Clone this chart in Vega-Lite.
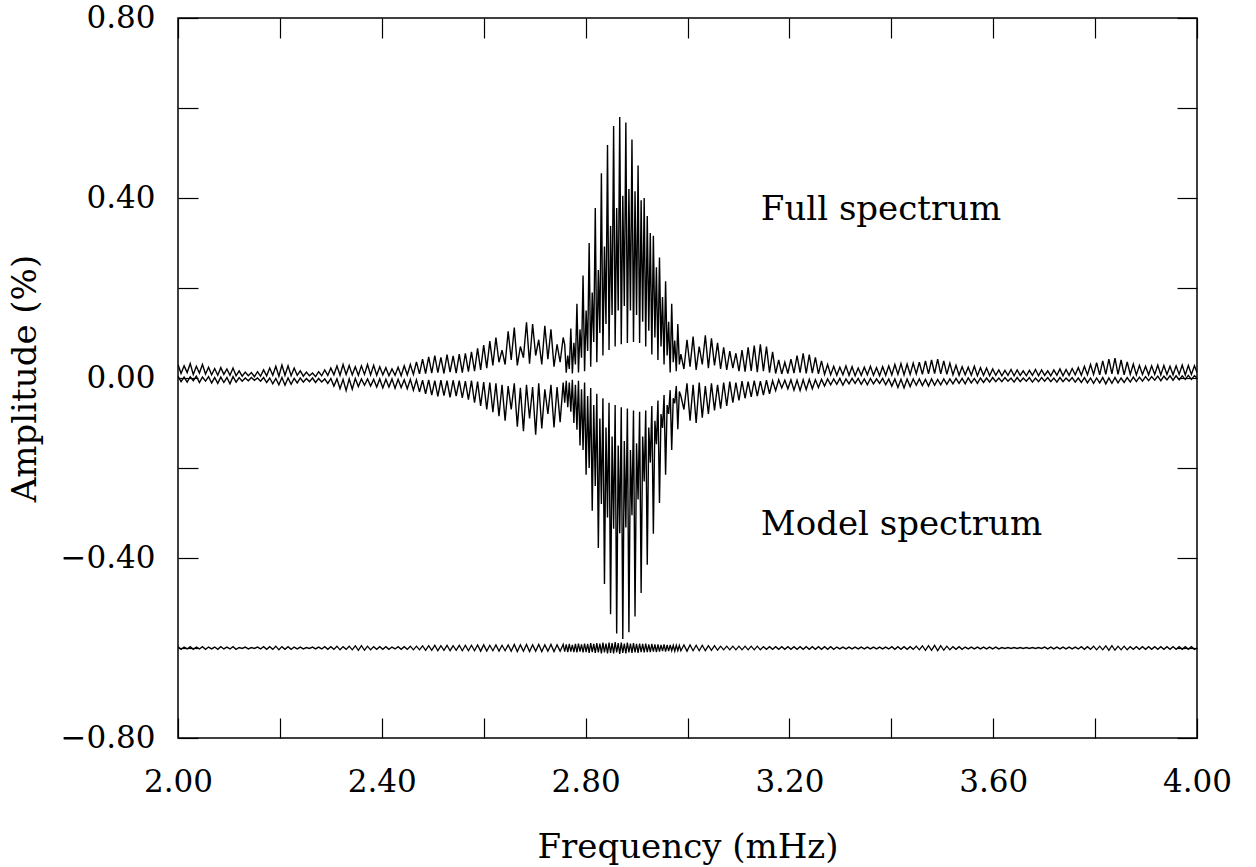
{
"$schema": "https://vega.github.io/schema/vega-lite/v6.json",
"width": 1019, "height": 720,
"autosize": {"type": "none"},
"padding": {"left": 178, "top": 18, "right": 59, "bottom": 129},
"background": "white",
"config": {
 "view": {"stroke": "#000", "strokeWidth": 1.5},
 "axis": {"grid": false, "domain": false, "tickColor": "#000", "tickSize": -20, "tickWidth": 1.2,
  "labelFont": "DejaVu Serif", "labelFontSize": 31, "labelColor": "#000",
  "titleFont": "DejaVu Serif", "titleFontSize": 34, "titleFontWeight": "normal", "titleColor": "#000"}
},
"data": {"values": [
{"f":2.000,"u":0.030,"l":0.004,"m":-0.597},{"f":2.006,"u":0.010,"l":-0.008,"m":-0.603},{"f":2.012,"u":0.027,"l":0.002,"m":-0.598},{"f":2.018,"u":0.012,"l":-0.009,"m":-0.602},
{"f":2.024,"u":0.032,"l":0.003,"m":-0.597},{"f":2.030,"u":0.008,"l":-0.006,"m":-0.603},{"f":2.036,"u":0.026,"l":0.004,"m":-0.598},{"f":2.042,"u":0.011,"l":-0.010,"m":-0.602},
{"f":2.048,"u":0.030,"l":0.002,"m":-0.597},{"f":2.054,"u":0.009,"l":-0.007,"m":-0.603},{"f":2.060,"u":0.024,"l":0.003,"m":-0.598},{"f":2.066,"u":0.007,"l":-0.011,"m":-0.602},
{"f":2.072,"u":0.021,"l":0.001,"m":-0.598},{"f":2.078,"u":0.006,"l":-0.012,"m":-0.603},{"f":2.084,"u":0.023,"l":0.002,"m":-0.597},{"f":2.090,"u":0.008,"l":-0.010,"m":-0.602},
{"f":2.096,"u":0.020,"l":0.001,"m":-0.598},{"f":2.102,"u":0.006,"l":-0.013,"m":-0.602},{"f":2.108,"u":0.022,"l":0.003,"m":-0.597},{"f":2.114,"u":0.005,"l":-0.009,"m":-0.603},
{"f":2.120,"u":0.016,"l":0.001,"m":-0.599},{"f":2.126,"u":0.004,"l":-0.007,"m":-0.601},{"f":2.132,"u":0.013,"l":0.000,"m":-0.598},{"f":2.138,"u":0.005,"l":-0.006,"m":-0.602},
{"f":2.144,"u":0.012,"l":0.001,"m":-0.599},{"f":2.150,"u":0.003,"l":-0.005,"m":-0.601},{"f":2.156,"u":0.014,"l":0.000,"m":-0.598},{"f":2.162,"u":0.004,"l":-0.007,"m":-0.602},
{"f":2.168,"u":0.018,"l":0.001,"m":-0.597},{"f":2.174,"u":0.005,"l":-0.010,"m":-0.603},{"f":2.180,"u":0.022,"l":0.000,"m":-0.597},{"f":2.186,"u":0.006,"l":-0.013,"m":-0.603},
{"f":2.192,"u":0.026,"l":-0.001,"m":-0.596},{"f":2.198,"u":0.004,"l":-0.015,"m":-0.604},{"f":2.204,"u":0.029,"l":0.001,"m":-0.597},{"f":2.210,"u":0.006,"l":-0.016,"m":-0.603},
{"f":2.216,"u":0.027,"l":0.000,"m":-0.597},{"f":2.222,"u":0.005,"l":-0.014,"m":-0.603},{"f":2.228,"u":0.022,"l":-0.001,"m":-0.598},{"f":2.234,"u":0.006,"l":-0.011,"m":-0.602},
{"f":2.240,"u":0.016,"l":0.000,"m":-0.598},{"f":2.246,"u":0.004,"l":-0.009,"m":-0.602},{"f":2.252,"u":0.013,"l":-0.001,"m":-0.599},{"f":2.258,"u":0.005,"l":-0.008,"m":-0.601},
{"f":2.264,"u":0.011,"l":0.000,"m":-0.598},{"f":2.270,"u":0.003,"l":-0.010,"m":-0.602},{"f":2.276,"u":0.014,"l":-0.001,"m":-0.598},{"f":2.282,"u":0.005,"l":-0.009,"m":-0.602},
{"f":2.288,"u":0.018,"l":-0.002,"m":-0.597},{"f":2.294,"u":0.006,"l":-0.012,"m":-0.603},{"f":2.300,"u":0.022,"l":-0.001,"m":-0.597},{"f":2.306,"u":0.007,"l":-0.018,"m":-0.603},
{"f":2.312,"u":0.027,"l":-0.002,"m":-0.596},{"f":2.318,"u":0.006,"l":-0.024,"m":-0.604},{"f":2.324,"u":0.030,"l":-0.003,"m":-0.597},{"f":2.330,"u":0.008,"l":-0.028,"m":-0.603},
{"f":2.336,"u":0.028,"l":-0.002,"m":-0.596},{"f":2.342,"u":0.007,"l":-0.025,"m":-0.604},{"f":2.348,"u":0.025,"l":-0.001,"m":-0.595},{"f":2.354,"u":0.006,"l":-0.019,"m":-0.605},
{"f":2.360,"u":0.027,"l":-0.002,"m":-0.595},{"f":2.366,"u":0.008,"l":-0.016,"m":-0.605},{"f":2.372,"u":0.030,"l":-0.002,"m":-0.596},{"f":2.378,"u":0.007,"l":-0.018,"m":-0.604},
{"f":2.384,"u":0.028,"l":-0.003,"m":-0.597},{"f":2.390,"u":0.006,"l":-0.020,"m":-0.603},{"f":2.396,"u":0.025,"l":-0.002,"m":-0.597},{"f":2.402,"u":0.007,"l":-0.022,"m":-0.603},
{"f":2.408,"u":0.023,"l":-0.003,"m":-0.597},{"f":2.414,"u":0.005,"l":-0.020,"m":-0.603},{"f":2.420,"u":0.020,"l":-0.002,"m":-0.598},{"f":2.426,"u":0.006,"l":-0.023,"m":-0.602},
{"f":2.432,"u":0.024,"l":-0.003,"m":-0.597},{"f":2.438,"u":0.005,"l":-0.021,"m":-0.603},{"f":2.444,"u":0.027,"l":-0.004,"m":-0.597},{"f":2.450,"u":0.007,"l":-0.024,"m":-0.603},
{"f":2.456,"u":0.030,"l":-0.003,"m":-0.596},{"f":2.462,"u":0.008,"l":-0.027,"m":-0.604},{"f":2.468,"u":0.036,"l":-0.004,"m":-0.596},{"f":2.474,"u":0.009,"l":-0.031,"m":-0.604},
{"f":2.480,"u":0.042,"l":-0.005,"m":-0.595},{"f":2.486,"u":0.010,"l":-0.035,"m":-0.605},{"f":2.492,"u":0.047,"l":-0.004,"m":-0.595},{"f":2.498,"u":0.011,"l":-0.038,"m":-0.605},
{"f":2.504,"u":0.050,"l":-0.006,"m":-0.594},{"f":2.510,"u":0.012,"l":-0.041,"m":-0.606},{"f":2.516,"u":0.046,"l":-0.005,"m":-0.595},{"f":2.522,"u":0.010,"l":-0.039,"m":-0.605},
{"f":2.528,"u":0.052,"l":-0.006,"m":-0.594},{"f":2.534,"u":0.013,"l":-0.043,"m":-0.606},{"f":2.540,"u":0.049,"l":-0.005,"m":-0.595},{"f":2.546,"u":0.011,"l":-0.040,"m":-0.605},
{"f":2.552,"u":0.053,"l":-0.006,"m":-0.594},{"f":2.558,"u":0.012,"l":-0.044,"m":-0.606},{"f":2.564,"u":0.055,"l":-0.007,"m":-0.594},{"f":2.570,"u":0.014,"l":-0.048,"m":-0.606},
{"f":2.576,"u":0.058,"l":-0.006,"m":-0.594},{"f":2.582,"u":0.015,"l":-0.055,"m":-0.606},{"f":2.588,"u":0.066,"l":-0.008,"m":-0.593},{"f":2.594,"u":0.018,"l":-0.062,"m":-0.607},
{"f":2.600,"u":0.073,"l":-0.009,"m":-0.593},{"f":2.606,"u":0.022,"l":-0.070,"m":-0.607},{"f":2.612,"u":0.082,"l":-0.010,"m":-0.594},{"f":2.618,"u":0.028,"l":-0.076,"m":-0.606},
{"f":2.624,"u":0.090,"l":-0.012,"m":-0.593},{"f":2.630,"u":0.035,"l":-0.085,"m":-0.607},{"f":2.636,"u":0.062,"l":-0.015,"m":-0.594},{"f":2.642,"u":0.030,"l":-0.095,"m":-0.606},
{"f":2.648,"u":0.104,"l":-0.018,"m":-0.593},{"f":2.654,"u":0.040,"l":-0.070,"m":-0.607},{"f":2.660,"u":0.112,"l":-0.012,"m":-0.592},{"f":2.666,"u":0.028,"l":-0.108,"m":-0.608},
{"f":2.672,"u":0.070,"l":-0.022,"m":-0.593},{"f":2.678,"u":0.045,"l":-0.118,"m":-0.607},{"f":2.684,"u":0.124,"l":-0.015,"m":-0.592},{"f":2.690,"u":0.032,"l":-0.090,"m":-0.608},
{"f":2.696,"u":0.120,"l":-0.020,"m":-0.593},{"f":2.702,"u":0.050,"l":-0.126,"m":-0.607},{"f":2.708,"u":0.085,"l":-0.012,"m":-0.592},{"f":2.714,"u":0.030,"l":-0.112,"m":-0.608},
{"f":2.720,"u":0.116,"l":-0.025,"m":-0.593},{"f":2.726,"u":0.042,"l":-0.080,"m":-0.607},{"f":2.732,"u":0.108,"l":-0.015,"m":-0.592},{"f":2.738,"u":0.025,"l":-0.110,"m":-0.608},
{"f":2.744,"u":0.075,"l":-0.020,"m":-0.593},{"f":2.750,"u":0.035,"l":-0.098,"m":-0.607},{"f":2.756,"u":0.090,"l":-0.010,"m":-0.592},
{"f":2.759,"u":0.074,"l":-0.055,"m":-0.608},{"f":2.762,"u":0.012,"l":-0.006,"m":-0.592},{"f":2.765,"u":0.050,"l":-0.065,"m":-0.609},{"f":2.768,"u":0.020,"l":-0.010,"m":-0.591},
{"f":2.771,"u":0.110,"l":-0.075,"m":-0.608},{"f":2.774,"u":0.010,"l":-0.004,"m":-0.593},{"f":2.777,"u":0.078,"l":-0.100,"m":-0.609},{"f":2.780,"u":0.030,"l":-0.015,"m":-0.591},
{"f":2.783,"u":0.165,"l":-0.115,"m":-0.610},{"f":2.786,"u":0.012,"l":-0.006,"m":-0.590},{"f":2.789,"u":0.108,"l":-0.150,"m":-0.608},{"f":2.792,"u":0.045,"l":-0.025,"m":-0.592},
{"f":2.795,"u":0.228,"l":-0.160,"m":-0.610},{"f":2.798,"u":0.015,"l":-0.010,"m":-0.590},{"f":2.801,"u":0.150,"l":-0.215,"m":-0.609},{"f":2.804,"u":0.060,"l":-0.040,"m":-0.591},
{"f":2.807,"u":0.300,"l":-0.200,"m":-0.611},{"f":2.810,"u":0.025,"l":-0.022,"m":-0.589},{"f":2.813,"u":0.190,"l":-0.295,"m":-0.609},{"f":2.816,"u":0.080,"l":-0.060,"m":-0.591},
{"f":2.819,"u":0.378,"l":-0.240,"m":-0.611},{"f":2.822,"u":0.035,"l":-0.035,"m":-0.589},{"f":2.825,"u":0.240,"l":-0.378,"m":-0.610},{"f":2.828,"u":0.100,"l":-0.090,"m":-0.590},
{"f":2.831,"u":0.455,"l":-0.280,"m":-0.612},{"f":2.834,"u":0.050,"l":-0.045,"m":-0.588},{"f":2.837,"u":0.292,"l":-0.458,"m":-0.610},{"f":2.840,"u":0.120,"l":-0.110,"m":-0.590},
{"f":2.843,"u":0.518,"l":-0.310,"m":-0.612},{"f":2.846,"u":0.062,"l":-0.055,"m":-0.588},{"f":2.849,"u":0.338,"l":-0.525,"m":-0.611},{"f":2.852,"u":0.140,"l":-0.130,"m":-0.589},
{"f":2.855,"u":0.560,"l":-0.335,"m":-0.612},{"f":2.858,"u":0.070,"l":-0.060,"m":-0.587},{"f":2.861,"u":0.378,"l":-0.568,"m":-0.610},{"f":2.864,"u":0.150,"l":-0.150,"m":-0.589},
{"f":2.867,"u":0.580,"l":-0.345,"m":-0.613},{"f":2.870,"u":0.075,"l":-0.065,"m":-0.588},{"f":2.873,"u":0.405,"l":-0.580,"m":-0.611},{"f":2.876,"u":0.160,"l":-0.140,"m":-0.590},
{"f":2.879,"u":0.568,"l":-0.332,"m":-0.612},{"f":2.882,"u":0.078,"l":-0.068,"m":-0.588},{"f":2.885,"u":0.420,"l":-0.565,"m":-0.610},{"f":2.888,"u":0.150,"l":-0.160,"m":-0.590},
{"f":2.891,"u":0.530,"l":-0.305,"m":-0.611},{"f":2.894,"u":0.080,"l":-0.072,"m":-0.589},{"f":2.897,"u":0.415,"l":-0.530,"m":-0.610},{"f":2.900,"u":0.140,"l":-0.145,"m":-0.591},
{"f":2.903,"u":0.472,"l":-0.270,"m":-0.611},{"f":2.906,"u":0.078,"l":-0.075,"m":-0.590},{"f":2.909,"u":0.395,"l":-0.478,"m":-0.609},{"f":2.912,"u":0.125,"l":-0.130,"m":-0.591},
{"f":2.915,"u":0.400,"l":-0.230,"m":-0.610},{"f":2.918,"u":0.070,"l":-0.072,"m":-0.590},{"f":2.921,"u":0.360,"l":-0.415,"m":-0.609},{"f":2.924,"u":0.105,"l":-0.110,"m":-0.592},
{"f":2.927,"u":0.322,"l":-0.188,"m":-0.609},{"f":2.930,"u":0.052,"l":-0.062,"m":-0.591},{"f":2.933,"u":0.316,"l":-0.346,"m":-0.608},{"f":2.936,"u":0.090,"l":-0.095,"m":-0.592},
{"f":2.939,"u":0.246,"l":-0.147,"m":-0.609},{"f":2.942,"u":0.040,"l":-0.050,"m":-0.592},{"f":2.945,"u":0.268,"l":-0.278,"m":-0.608},{"f":2.948,"u":0.070,"l":-0.080,"m":-0.593},
{"f":2.951,"u":0.180,"l":-0.111,"m":-0.607},{"f":2.954,"u":0.030,"l":-0.038,"m":-0.592},{"f":2.957,"u":0.215,"l":-0.215,"m":-0.608},{"f":2.960,"u":0.050,"l":-0.060,"m":-0.593},
{"f":2.963,"u":0.125,"l":-0.080,"m":-0.607},{"f":2.966,"u":0.012,"l":-0.027,"m":-0.593},{"f":2.969,"u":0.165,"l":-0.160,"m":-0.606},{"f":2.972,"u":0.035,"l":-0.045,"m":-0.594},
{"f":2.975,"u":0.083,"l":-0.056,"m":-0.607},{"f":2.978,"u":0.015,"l":-0.018,"m":-0.594},{"f":2.981,"u":0.120,"l":-0.114,"m":-0.606},{"f":2.984,"u":0.030,"l":-0.030,"m":-0.594},
{"f":2.987,"u":0.053,"l":-0.040,"m":-0.606},
{"f":2.993,"u":0.020,"l":-0.070,"m":-0.593},{"f":2.999,"u":0.085,"l":-0.012,"m":-0.607},{"f":3.005,"u":0.025,"l":-0.095,"m":-0.593},{"f":3.011,"u":0.092,"l":-0.015,"m":-0.606},
{"f":3.017,"u":0.018,"l":-0.100,"m":-0.594},{"f":3.023,"u":0.070,"l":-0.010,"m":-0.606},{"f":3.029,"u":0.030,"l":-0.088,"m":-0.594},{"f":3.035,"u":0.095,"l":-0.018,"m":-0.606},
{"f":3.041,"u":0.022,"l":-0.080,"m":-0.595},{"f":3.047,"u":0.088,"l":-0.012,"m":-0.605},{"f":3.053,"u":0.028,"l":-0.072,"m":-0.595},{"f":3.059,"u":0.078,"l":-0.015,"m":-0.605},
{"f":3.065,"u":0.020,"l":-0.068,"m":-0.596},{"f":3.071,"u":0.068,"l":-0.010,"m":-0.604},{"f":3.077,"u":0.018,"l":-0.062,"m":-0.596},{"f":3.083,"u":0.060,"l":-0.008,"m":-0.604},
{"f":3.089,"u":0.022,"l":-0.055,"m":-0.596},{"f":3.095,"u":0.055,"l":-0.010,"m":-0.604},{"f":3.101,"u":0.015,"l":-0.050,"m":-0.596},{"f":3.107,"u":0.062,"l":-0.007,"m":-0.604},
{"f":3.113,"u":0.014,"l":-0.045,"m":-0.596},{"f":3.119,"u":0.068,"l":-0.008,"m":-0.604},{"f":3.125,"u":0.016,"l":-0.042,"m":-0.596},{"f":3.131,"u":0.072,"l":-0.006,"m":-0.604},
{"f":3.137,"u":0.013,"l":-0.040,"m":-0.596},{"f":3.143,"u":0.075,"l":-0.007,"m":-0.604},{"f":3.149,"u":0.015,"l":-0.038,"m":-0.597},{"f":3.155,"u":0.070,"l":-0.005,"m":-0.603},
{"f":3.161,"u":0.012,"l":-0.035,"m":-0.597},{"f":3.167,"u":0.058,"l":-0.006,"m":-0.603},{"f":3.173,"u":0.010,"l":-0.028,"m":-0.597},{"f":3.179,"u":0.040,"l":-0.004,"m":-0.603},
{"f":3.185,"u":0.009,"l":-0.022,"m":-0.597},{"f":3.191,"u":0.035,"l":-0.005,"m":-0.603},{"f":3.197,"u":0.010,"l":-0.024,"m":-0.597},{"f":3.203,"u":0.042,"l":-0.004,"m":-0.603},
{"f":3.209,"u":0.011,"l":-0.027,"m":-0.597},{"f":3.215,"u":0.050,"l":-0.005,"m":-0.603},{"f":3.221,"u":0.012,"l":-0.028,"m":-0.597},{"f":3.227,"u":0.055,"l":-0.004,"m":-0.603},
{"f":3.233,"u":0.010,"l":-0.026,"m":-0.597},{"f":3.239,"u":0.052,"l":-0.003,"m":-0.603},{"f":3.245,"u":0.011,"l":-0.024,"m":-0.597},{"f":3.251,"u":0.046,"l":-0.004,"m":-0.603},
{"f":3.257,"u":0.009,"l":-0.021,"m":-0.597},{"f":3.263,"u":0.038,"l":-0.003,"m":-0.603},{"f":3.269,"u":0.008,"l":-0.018,"m":-0.597},{"f":3.275,"u":0.030,"l":-0.002,"m":-0.603},
{"f":3.281,"u":0.007,"l":-0.015,"m":-0.597},{"f":3.287,"u":0.026,"l":-0.002,"m":-0.603},{"f":3.293,"u":0.006,"l":-0.014,"m":-0.598},{"f":3.299,"u":0.024,"l":-0.001,"m":-0.602},
{"f":3.305,"u":0.007,"l":-0.016,"m":-0.598},{"f":3.311,"u":0.027,"l":-0.002,"m":-0.602},{"f":3.317,"u":0.006,"l":-0.013,"m":-0.598},{"f":3.323,"u":0.025,"l":-0.001,"m":-0.602},
{"f":3.329,"u":0.005,"l":-0.012,"m":-0.598},{"f":3.335,"u":0.022,"l":-0.001,"m":-0.602},{"f":3.341,"u":0.006,"l":-0.014,"m":-0.598},{"f":3.347,"u":0.024,"l":-0.002,"m":-0.602},
{"f":3.353,"u":0.007,"l":-0.015,"m":-0.598},{"f":3.359,"u":0.026,"l":-0.001,"m":-0.602},{"f":3.365,"u":0.006,"l":-0.013,"m":-0.598},{"f":3.371,"u":0.023,"l":-0.002,"m":-0.602},
{"f":3.377,"u":0.005,"l":-0.012,"m":-0.598},{"f":3.383,"u":0.025,"l":-0.001,"m":-0.602},{"f":3.389,"u":0.006,"l":-0.015,"m":-0.598},{"f":3.395,"u":0.027,"l":-0.002,"m":-0.602},
{"f":3.401,"u":0.007,"l":-0.018,"m":-0.597},{"f":3.407,"u":0.030,"l":-0.002,"m":-0.603},{"f":3.413,"u":0.008,"l":-0.021,"m":-0.597},{"f":3.419,"u":0.032,"l":-0.003,"m":-0.603},
{"f":3.425,"u":0.007,"l":-0.022,"m":-0.597},{"f":3.431,"u":0.031,"l":-0.002,"m":-0.603},{"f":3.437,"u":0.008,"l":-0.019,"m":-0.597},{"f":3.443,"u":0.033,"l":-0.002,"m":-0.603},
{"f":3.449,"u":0.009,"l":-0.016,"m":-0.596},{"f":3.455,"u":0.035,"l":-0.002,"m":-0.604},{"f":3.461,"u":0.008,"l":-0.017,"m":-0.595},{"f":3.467,"u":0.038,"l":-0.003,"m":-0.605},
{"f":3.473,"u":0.009,"l":-0.018,"m":-0.595},{"f":3.479,"u":0.040,"l":-0.002,"m":-0.605},{"f":3.485,"u":0.010,"l":-0.016,"m":-0.594},{"f":3.491,"u":0.042,"l":-0.003,"m":-0.606},
{"f":3.497,"u":0.009,"l":-0.015,"m":-0.595},{"f":3.503,"u":0.038,"l":-0.002,"m":-0.605},{"f":3.509,"u":0.008,"l":-0.014,"m":-0.596},{"f":3.515,"u":0.033,"l":-0.002,"m":-0.604},
{"f":3.521,"u":0.007,"l":-0.013,"m":-0.597},{"f":3.527,"u":0.028,"l":-0.001,"m":-0.603},{"f":3.533,"u":0.006,"l":-0.012,"m":-0.597},{"f":3.539,"u":0.025,"l":-0.001,"m":-0.603},
{"f":3.545,"u":0.007,"l":-0.013,"m":-0.598},{"f":3.551,"u":0.024,"l":0.000,"m":-0.602},{"f":3.557,"u":0.006,"l":-0.011,"m":-0.598},{"f":3.563,"u":0.026,"l":-0.001,"m":-0.602},
{"f":3.569,"u":0.005,"l":-0.012,"m":-0.598},{"f":3.575,"u":0.023,"l":0.000,"m":-0.602},{"f":3.581,"u":0.006,"l":-0.010,"m":-0.598},{"f":3.587,"u":0.022,"l":0.000,"m":-0.602},
{"f":3.593,"u":0.005,"l":-0.009,"m":-0.598},{"f":3.599,"u":0.020,"l":0.001,"m":-0.602},{"f":3.605,"u":0.006,"l":-0.008,"m":-0.598},{"f":3.611,"u":0.018,"l":0.000,"m":-0.602},
{"f":3.617,"u":0.005,"l":-0.008,"m":-0.599},{"f":3.623,"u":0.017,"l":0.001,"m":-0.601},{"f":3.629,"u":0.006,"l":-0.007,"m":-0.599},{"f":3.635,"u":0.019,"l":0.000,"m":-0.601},
{"f":3.641,"u":0.005,"l":-0.009,"m":-0.599},{"f":3.647,"u":0.018,"l":0.001,"m":-0.601},{"f":3.653,"u":0.006,"l":-0.008,"m":-0.599},{"f":3.659,"u":0.016,"l":0.000,"m":-0.601},
{"f":3.665,"u":0.005,"l":-0.007,"m":-0.599},{"f":3.671,"u":0.017,"l":0.001,"m":-0.601},{"f":3.677,"u":0.006,"l":-0.009,"m":-0.599},{"f":3.683,"u":0.019,"l":0.000,"m":-0.601},
{"f":3.689,"u":0.005,"l":-0.008,"m":-0.599},{"f":3.695,"u":0.018,"l":0.001,"m":-0.601},{"f":3.701,"u":0.006,"l":-0.007,"m":-0.598},{"f":3.707,"u":0.016,"l":0.001,"m":-0.602},
{"f":3.713,"u":0.005,"l":-0.008,"m":-0.598},{"f":3.719,"u":0.018,"l":0.000,"m":-0.602},{"f":3.725,"u":0.006,"l":-0.009,"m":-0.598},{"f":3.731,"u":0.020,"l":0.001,"m":-0.602},
{"f":3.737,"u":0.005,"l":-0.008,"m":-0.598},{"f":3.743,"u":0.019,"l":0.000,"m":-0.602},{"f":3.749,"u":0.006,"l":-0.007,"m":-0.598},{"f":3.755,"u":0.021,"l":0.001,"m":-0.602},
{"f":3.761,"u":0.007,"l":-0.009,"m":-0.598},{"f":3.767,"u":0.023,"l":0.000,"m":-0.602},{"f":3.773,"u":0.006,"l":-0.010,"m":-0.597},{"f":3.779,"u":0.026,"l":0.001,"m":-0.603},
{"f":3.785,"u":0.007,"l":-0.011,"m":-0.597},{"f":3.791,"u":0.030,"l":0.000,"m":-0.603},{"f":3.797,"u":0.008,"l":-0.012,"m":-0.596},{"f":3.803,"u":0.034,"l":0.000,"m":-0.604},
{"f":3.809,"u":0.007,"l":-0.011,"m":-0.596},{"f":3.815,"u":0.038,"l":0.001,"m":-0.604},{"f":3.821,"u":0.008,"l":-0.013,"m":-0.595},{"f":3.827,"u":0.042,"l":0.000,"m":-0.605},
{"f":3.833,"u":0.009,"l":-0.012,"m":-0.595},{"f":3.839,"u":0.044,"l":0.001,"m":-0.605},{"f":3.845,"u":0.008,"l":-0.011,"m":-0.596},{"f":3.851,"u":0.040,"l":0.000,"m":-0.604},
{"f":3.857,"u":0.007,"l":-0.010,"m":-0.596},{"f":3.863,"u":0.036,"l":0.001,"m":-0.604},{"f":3.869,"u":0.008,"l":-0.009,"m":-0.597},{"f":3.875,"u":0.031,"l":0.002,"m":-0.603},
{"f":3.881,"u":0.007,"l":-0.008,"m":-0.597},{"f":3.887,"u":0.028,"l":0.002,"m":-0.603},{"f":3.893,"u":0.008,"l":-0.007,"m":-0.597},{"f":3.899,"u":0.026,"l":0.003,"m":-0.603},
{"f":3.905,"u":0.007,"l":-0.006,"m":-0.597},{"f":3.911,"u":0.027,"l":0.003,"m":-0.603},{"f":3.917,"u":0.008,"l":-0.005,"m":-0.597},{"f":3.923,"u":0.029,"l":0.004,"m":-0.603},
{"f":3.929,"u":0.007,"l":-0.006,"m":-0.597},{"f":3.935,"u":0.028,"l":0.004,"m":-0.603},{"f":3.941,"u":0.008,"l":-0.004,"m":-0.597},{"f":3.947,"u":0.026,"l":0.005,"m":-0.603},
{"f":3.953,"u":0.007,"l":-0.005,"m":-0.597},{"f":3.959,"u":0.027,"l":0.005,"m":-0.603},{"f":3.965,"u":0.008,"l":-0.004,"m":-0.597},{"f":3.971,"u":0.029,"l":0.005,"m":-0.603},
{"f":3.977,"u":0.007,"l":-0.003,"m":-0.597},{"f":3.983,"u":0.028,"l":0.006,"m":-0.603},{"f":3.989,"u":0.008,"l":-0.003,"m":-0.597},{"f":3.995,"u":0.027,"l":0.005,"m":-0.603},
{"f":4.000,"u":0.012,"l":0.000,"m":-0.600}
]},
"layer": [
 {"mark": {"type": "line", "color": "#000", "strokeWidth": 1.4, "clip": true},
  "encoding": {
   "x": {"field": "f", "type": "quantitative", "scale": {"domain": [2, 4], "nice": false, "zero": false},
    "axis": {"orient": "bottom", "values": [2, 2.2, 2.4, 2.6, 2.8, 3, 3.2, 3.4, 3.6, 3.8, 4], "format": ".2f",
     "labelExpr": "round(datum.value*10) % 4 == 0 ? datum.label : ''", "labelPadding": 49, "labelFlush": false,
     "title": "Frequency (mHz)", "titlePadding": 33}},
   "y": {"field": "u", "type": "quantitative", "scale": {"domain": [-0.8, 0.8], "nice": false, "zero": false},
    "axis": {"orient": "left", "values": [-0.8, -0.6, -0.4, -0.2, 0, 0.2, 0.4, 0.6, 0.8], "format": ".2f",
     "labelExpr": "round(datum.value*10) % 4 == 0 ? datum.label : ''", "labelPadding": 43, "labelFlush": false,
     "title": "Amplitude (%)", "titlePadding": 18}}
  }},
 {"mark": {"type": "line", "color": "#000", "strokeWidth": 1.4, "clip": true},
  "encoding": {
   "x": {"field": "f", "type": "quantitative", "scale": {"domain": [2, 4], "nice": false, "zero": false},
    "axis": {"orient": "top", "values": [2, 2.2, 2.4, 2.6, 2.8, 3, 3.2, 3.4, 3.6, 3.8, 4], "labels": false, "title": null}},
   "y": {"field": "l", "type": "quantitative", "scale": {"domain": [-0.8, 0.8], "nice": false, "zero": false},
    "axis": {"orient": "right", "values": [-0.8, -0.6, -0.4, -0.2, 0, 0.2, 0.4, 0.6, 0.8], "labels": false, "title": null}}
  }},
 {"mark": {"type": "line", "color": "#000", "strokeWidth": 1.3, "clip": true},
  "encoding": {
   "x": {"field": "f", "type": "quantitative", "axis": null},
   "y": {"field": "m", "type": "quantitative", "axis": null}
  }},
 {"data": {"values": [{"f": 3.144, "a": 0.373, "t": "Full spectrum"}, {"f": 3.144, "a": -0.327, "t": "Model spectrum"}]},
  "mark": {"type": "text", "align": "left", "baseline": "middle", "font": "DejaVu Serif", "fontSize": 34, "color": "#000"},
  "encoding": {
   "x": {"field": "f", "type": "quantitative", "axis": null},
   "y": {"field": "a", "type": "quantitative", "axis": null},
   "text": {"field": "t"}
  }}
],
"resolve": {"axis": {"x": "independent", "y": "independent"}}
}
